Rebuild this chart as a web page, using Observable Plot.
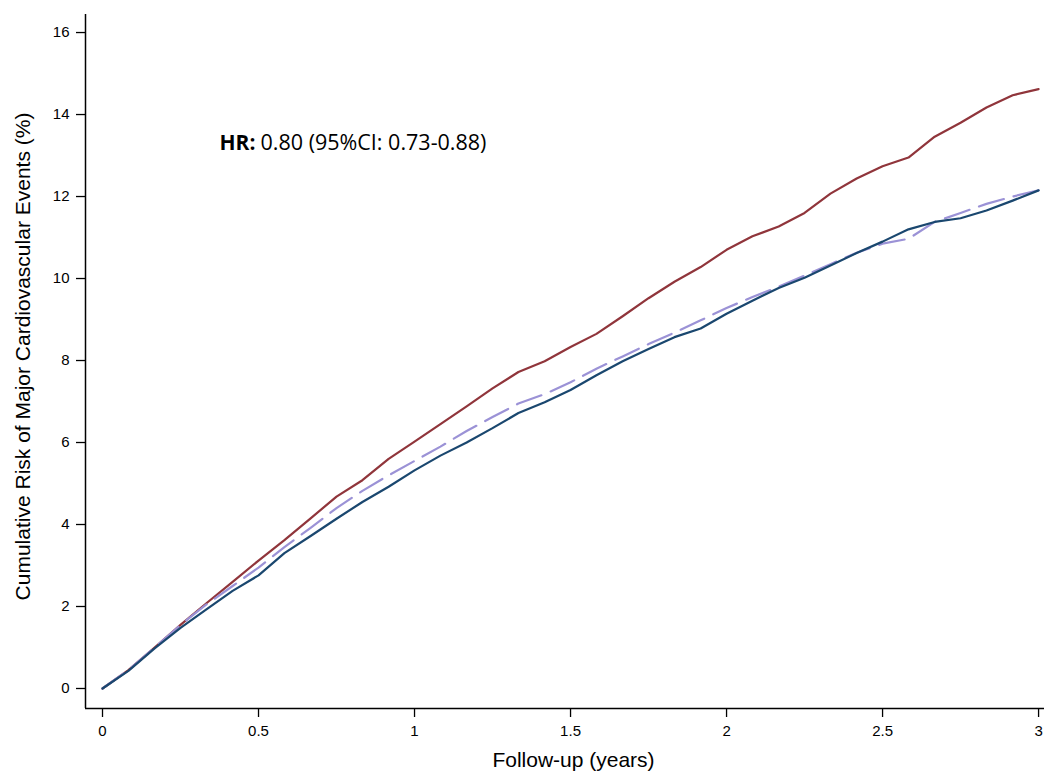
<!DOCTYPE html>
<html>
<head>
<meta charset="utf-8">
<script src="https://cdn.jsdelivr.net/npm/d3@7"></script>
<script src="https://cdn.jsdelivr.net/npm/@observablehq/plot@0.6"></script>
<style>
  html, body { margin: 0; padding: 0; background: #fff; }
  #chart svg { display: block; }
</style>
</head>
<body>
<div id="chart"></div>
<script>
// Follow-up time (years), monthly
const followUpYears = [0, 0.083, 0.167, 0.25, 0.333, 0.417, 0.5, 0.583, 0.667, 0.75, 0.833, 0.917,
  1, 1.083, 1.167, 1.25, 1.333, 1.417, 1.5, 1.583, 1.667, 1.75, 1.833, 1.917,
  2, 2.083, 2.167, 2.25, 2.333, 2.417, 2.5, 2.583, 2.667, 2.75, 2.833, 2.917, 3];

// Cumulative risk (%) — red (comparator) curve
const riskRed = [0, 0.45, 1.0, 1.55, 2.08, 2.6, 3.12, 3.62, 4.15, 4.68, 5.08, 5.6,
  6.02, 6.45, 6.88, 7.32, 7.72, 7.98, 8.33, 8.65, 9.08, 9.52, 9.92, 10.28,
  10.7, 11.03, 11.27, 11.6, 12.07, 12.44, 12.74, 12.95, 13.46, 13.8, 14.17, 14.47, 14.62];

// Cumulative risk (%) — blue (treatment) curve
const riskBlue = [0, 0.43, 0.98, 1.48, 1.93, 2.38, 2.76, 3.3, 3.72, 4.14, 4.55, 4.92,
  5.32, 5.68, 6.0, 6.35, 6.72, 6.98, 7.28, 7.64, 7.98, 8.28, 8.57, 8.78,
  9.14, 9.46, 9.77, 10.02, 10.32, 10.62, 10.9, 11.2, 11.38, 11.47, 11.66, 11.9, 12.15];

// Cumulative risk (%) — dashed (expected) curve
const riskDashed = [0, 0.45, 1.0, 1.55, 2.05, 2.5, 2.95, 3.45, 3.92, 4.4, 4.82, 5.2,
  5.55, 5.9, 6.28, 6.62, 6.95, 7.18, 7.47, 7.8, 8.1, 8.4, 8.68, 8.98,
  9.28, 9.55, 9.8, 10.07, 10.35, 10.63, 10.85, 10.97, 11.38, 11.6, 11.82, 12.0, 12.15];

const xTicks = [0, 0.5, 1, 1.5, 2, 2.5, 3];
const yTicks = [0, 2, 4, 6, 8, 10, 12, 14, 16];
const xLabel = "Follow-up (years)";
const yLabel = "Cumulative Risk of Major Cardiovascular Events (%)";
const hrBold = "HR:";
const hrText = "0.80 (95%CI: 0.73-0.88)";
const hrPos = {x: 0.375, y: 13.3};

const xDomain = [-0.0545, 3.019];
const yDomain = [-0.488, 16.44];

const mk = (vals) => followUpYears.map((t, i) => ({t, v: vals[i]}));
const red = mk(riskRed), blue = mk(riskBlue), dashed = mk(riskDashed);

const axisFont = "'Liberation Sans', Arial, Helvetica, sans-serif";

const chart = Plot.plot({
  width: 1044,
  height: 774,
  marginLeft: 85,
  marginRight: 0,
  marginTop: 14,
  marginBottom: 66,
  style: {fontFamily: axisFont, fontSize: "15px", color: "#000", background: "#fff"},
  x: {domain: xDomain},
  y: {domain: yDomain},
  marks: [
    Plot.ruleX([xDomain[0]], {stroke: "#000", strokeWidth: 1.5}),
    Plot.ruleY([yDomain[0]], {stroke: "#000", strokeWidth: 1.5}),
    Plot.axisX({ticks: xTicks, tickFormat: d => String(d), tickSize: 9, tickPadding: 8, label: null, fontSize: 15, stroke: "#000", strokeWidth: 1.3}),
    Plot.axisY({ticks: yTicks, tickFormat: d => String(d), tickSize: 9, tickPadding: 7, label: null, fontSize: 15, stroke: "#000", strokeWidth: 1.3}),
    Plot.line(red, {x: "t", y: "v", stroke: "#90353b", strokeWidth: 2.2}),
    Plot.line(dashed, {x: "t", y: "v", stroke: "#9b92d6", strokeWidth: 2.2, strokeDasharray: "26,10"}),
    Plot.line(blue, {x: "t", y: "v", stroke: "#1a476f", strokeWidth: 2.2}),
    Plot.text([xLabel], {frameAnchor: "bottom", textAnchor: "middle", lineAnchor: "middle", dx: 8.5, dy: 52, fontSize: 21, fill: "#000", fontFamily: axisFont}),
    Plot.text([yLabel], {frameAnchor: "left", textAnchor: "middle", lineAnchor: "middle", rotate: -90, dx: -62, dy: -5, fontSize: 21, fill: "#000", fontFamily: axisFont}),
    Plot.text([hrPos], {x: "x", y: "y", text: () => hrBold, textAnchor: "start", fontSize: 21, fontWeight: "bold", fill: "#000", fontFamily: "'Open Sans', sans-serif"}),
    Plot.text([hrPos], {x: "x", y: "y", text: () => hrText, textAnchor: "start", dx: 41, fontSize: 21.5, fill: "#000", fontFamily: "'Open Sans', sans-serif"})
  ]
});
document.getElementById("chart").appendChild(chart);
</script>
</body>
</html>
